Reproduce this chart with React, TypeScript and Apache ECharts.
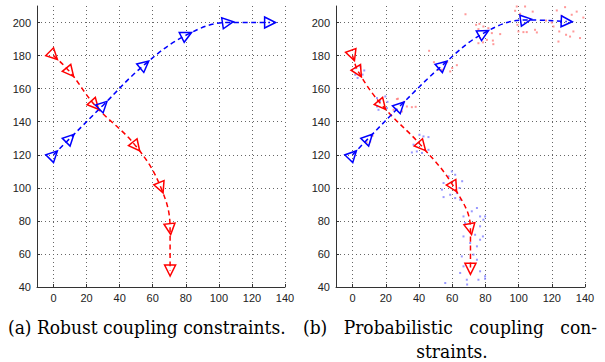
import React, { useEffect, useRef } from "react";
import * as echarts from "echarts";

// ---- data ----
const xTicks = [0, 20, 40, 60, 80, 100, 120, 140];
const yTicks = [40, 60, 80, 100, 120, 140, 160, 180, 200];

// (a) robust
const redAX = [0, 10, 25, 50, 65, 70.5, 70.5];
const redAY = [180, 170, 150, 125, 100, 75, 50];
const blueAX = [0, 10, 30, 55, 80.5, 105.5, 131];
const blueAY = [120, 130, 150, 174.5, 192.5, 200, 200];

// (b) probabilistic
const redBX = [0, 3.6, 17.7, 41.8, 61, 71, 71];
const redBY = [180, 170, 150, 125, 100.5, 75, 51];
const blueBX = [0, 9.6, 28.7, 54.4, 79, 104.5, 129];
const blueBY = [120, 130, 149.6, 174.4, 193.6, 201.6, 200.6];

// sample clouds (b): light red around blue path, light blue around red path
const redDots: [number, number][] = [
  [10.6, 128], [12, 131.5], [8.5, 127.5],
  [26.7, 153.7], [27.3, 153.9], [32.7, 149.2], [35.7, 148.8], [31, 152], [24.7, 147.2], [29.7, 146.2], [38, 149],
  [46.1, 182.9], [62.8, 174.2], [58.8, 170.4], [53.8, 171.4], [51.7, 171.4], [57, 176], [49, 176], [60, 172.5],
  [68, 205], [74.4, 198.6], [76.4, 199.2], [78.8, 197.6], [81.8, 196.6], [75.8, 196], [83.9, 193.6], [88.9, 193],
  [76.8, 190.6], [80.9, 189.5], [84.5, 189.1], [84.8, 186.9], [75.8, 187.5], [78.5, 188],
  [98.9, 209.7], [103.9, 209.7], [97.9, 207.1], [100.9, 205.3], [106.9, 202], [108.5, 206.6], [99.3, 198.6],
  [99.9, 194.6], [102.9, 194.2], [104.9, 194.2], [109.9, 195.6], [111, 194], [116.5, 201.2],
  [123, 207.3], [128, 209.3], [132, 204.7], [135, 206.6], [121, 197.6], [124.5, 194.6], [128.6, 192.6],
  [131, 191.5], [124, 188.5], [137, 190.6], [133, 194.6], [120, 200], [126, 204], [139, 203],
];
const blueDots: [number, number][] = [
  [1.6, 172.4], [4.6, 173.4], [6, 168.5], [1.6, 168.4], [3, 166.5], [7, 171],
  [14.7, 154.3], [19.7, 155.3], [21, 152], [14.7, 149.2], [15.6, 147.2], [20.7, 148.2], [16.5, 152.5],
  [40.3, 132.1], [42.7, 131.1], [45.7, 130.7], [36.7, 126.1], [35.7, 121.4], [38.7, 122], [41.8, 121.1], [45.7, 123],
  [59.8, 109.9], [61.8, 107.9], [57.8, 106.9], [54.8, 102.9], [53.8, 98.9], [54.8, 94.4], [58.8, 95.8],
  [62.8, 96.8], [61.8, 93.8], [64.8, 92.8], [64.4, 99.9], [66, 104],
  [74.9, 87.8], [71.8, 85.8], [76.8, 82.7], [66.8, 82.7], [67.8, 78.7], [76.8, 76.7], [73.8, 71.6],
  [66.8, 70.6], [76.8, 68.6], [70.8, 66.6], [78.8, 80.7], [74.9, 64.6], [79.8, 82.7], [78.5, 70.6],
  [64.8, 48.5], [66.8, 52.5], [74.9, 56.5], [76.8, 49.5], [75.8, 44.4], [55.8, 42.4], [68.8, 44.4],
  [79.8, 46.5], [72.8, 59.6], [65.8, 58.5], [79.8, 45], [69, 41.5],
];

const captionA = "(a) Robust coupling constraints.";
const captionBLine1 = ["(b)", "Probabilistic", "coupling", "con-"];
const captionBLine2 = "straints.";

const RED = "#ff0000";
const BLUE = "#0000ff";

function headings(xs: number[], ys: number[]) {
  const n = xs.length;
  return xs.map((_, i) => {
    const a = Math.max(0, i - 1);
    const b = Math.min(n - 1, i + 1);
    const ang = (Math.atan2(ys[b] - ys[a], xs[b] - xs[a]) * 180) / Math.PI;
    return ang - 90;
  });
}

function pathSeries(xs: number[], ys: number[], color: string, idx: number) {
  const rot = headings(xs, ys);
  return {
    type: "line",
    xAxisIndex: idx,
    yAxisIndex: idx,
    smooth: 0.4,
    showAllSymbol: true,
    symbol: "triangle",
    symbolSize: [11, 11],
    data: xs.map((x, i) => ({ value: [x, ys[i]], symbolRotate: rot[i] })),
    lineStyle: { color, width: 1.5, type: [5, 3.5] },
    itemStyle: { color: "rgba(255,255,255,0)", borderColor: color, borderWidth: 1.5 },
    z: 5,
  };
}

const sans = "Liberation Sans";

function xAxisCfg(idx: number) {
  return {
    type: "value",
    gridIndex: idx,
    min: -10,
    max: 140,
    axisLine: { show: true, onZero: false, lineStyle: { color: "#333", width: 1 } },
    axisTick: { show: true, inside: true, length: 3, customValues: xTicks, lineStyle: { color: "#333" } },
    axisLabel: { customValues: xTicks, fontSize: 11, color: "#222", fontFamily: sans, margin: 5 },
    splitLine: { show: true, lineStyle: { type: [1, 3], color: "#666", width: 1 } },
  };
}

function yAxisCfg(idx: number) {
  return {
    type: "value",
    gridIndex: idx,
    min: 40,
    max: 210,
    axisLine: { show: true, onZero: false, lineStyle: { color: "#333", width: 1 } },
    axisTick: { show: true, inside: true, length: 3, customValues: yTicks, lineStyle: { color: "#333" } },
    axisLabel: { customValues: yTicks, fontSize: 11, color: "#222", fontFamily: sans, margin: 6 },
    splitLine: { show: true, lineStyle: { type: [1, 3], color: "#666", width: 1 } },
  };
}

const capSize = 19;
const capFont = `${capSize}px DejaVu Serif`;
const squeeze = 0.9;

function cap(text: string, x: number, y: number, align: string = "left") {
  return {
    type: "text",
    x,
    y,
    scaleX: squeeze,
    style: { text, font: capFont, fill: "#000", verticalAlign: "middle", align },
  };
}

function justifiedLine(words: string[], x0: number, x1: number, y: number) {
  const c = document.createElement("canvas").getContext("2d")!;
  c.font = capFont;
  const widths = words.map((w) => c.measureText(w).width * squeeze);
  const total = widths.reduce((s, w) => s + w, 0);
  const gap = (x1 - x0 - total) / (words.length - 1);
  let x = x0;
  return words.map((w, i) => {
    const el = cap(w, x, y);
    x += widths[i] + gap;
    return el;
  });
}

export default function App() {
  const ref = useRef<HTMLDivElement>(null);
  useEffect(() => {
    if (!ref.current) return;
    const chart = echarts.init(ref.current, null, { renderer: "svg" });
    chart.setOption({
      animation: false,
      backgroundColor: "#fff",
      grid: [
        { left: 37, top: 6, width: 248, height: 281 },
        { left: 336, top: 6, width: 249, height: 281 },
      ],
      xAxis: [xAxisCfg(0), xAxisCfg(1)],
      yAxis: [yAxisCfg(0), yAxisCfg(1)],
      series: [
        {
          type: "scatter",
          xAxisIndex: 1,
          yAxisIndex: 1,
          symbol: "rect",
          symbolSize: 2,
          data: redDots,
          itemStyle: { color: "#ff8080", opacity: 0.8 },
          z: 2,
        },
        {
          type: "scatter",
          xAxisIndex: 1,
          yAxisIndex: 1,
          symbol: "rect",
          symbolSize: 2,
          data: blueDots,
          itemStyle: { color: "#8080ff", opacity: 0.8 },
          z: 2,
        },
        pathSeries(redAX, redAY, RED, 0),
        pathSeries(blueAX, blueAY, BLUE, 0),
        pathSeries(redBX, redBY, RED, 1),
        pathSeries(blueBX, blueBY, BLUE, 1),
      ],
      graphic: [
        cap(captionA, 8, 327),
        ...justifiedLine(captionBLine1, 303, 597, 327),
        cap(captionBLine2, 452, 351, "center"),
      ],
    });
    return () => chart.dispose();
  }, []);
  return (
    <div
      ref={ref}
      style={{ position: "fixed", left: 0, top: 0, width: 605, height: 362, background: "#fff" }}
    />
  );
}
